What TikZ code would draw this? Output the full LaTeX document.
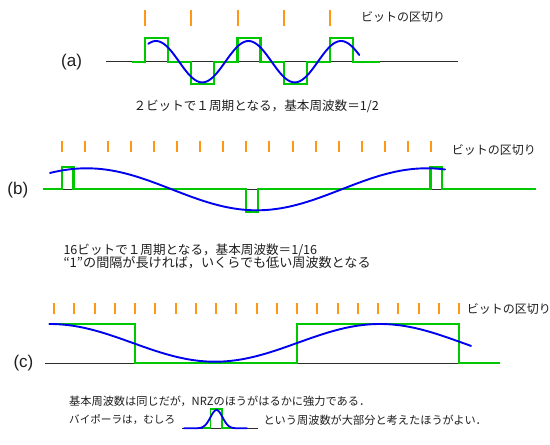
\documentclass[tikz,border=0pt]{standalone}
\usepackage{fontspec}
\newfontfamily\jpfont{Noto Sans CJK JP}
\newfontfamily\labfont{Liberation Sans}
\definecolor{tickor}{RGB}{255,150,20}
\definecolor{sigg}{RGB}{0,200,0}
\definecolor{sigb}{RGB}{0,0,240}
\definecolor{basek}{RGB}{45,45,45}
\definecolor{txt}{RGB}{30,30,30}
\begin{document}
\begin{tikzpicture}[x=1pt,y=-1pt,
  tickmark/.style={draw=tickor,line width=2pt},
  greenwave/.style={draw=sigg,line width=2.2pt,line join=miter},
  bluewave/.style={draw=sigb,line width=1.9pt,line cap=round},
  baseline/.style={draw=basek,line width=1.4pt},
  panel/.style={inner sep=0pt,anchor=west,font=\labfont\fontsize{17}{19}\selectfont,text=txt},
  jplabel/.style={inner sep=0pt,anchor=west,font=\jpfont\fontsize{12}{14}\selectfont,text=txt},
  jptext/.style={inner sep=0pt,anchor=west,font=\jpfont\fontsize{12.6}{14}\selectfont,text=txt},
  jpsmall/.style={inner sep=0pt,anchor=west,font=\jpfont\fontsize{11.2}{13}\selectfont,text=txt}]
\useasboundingbox (0,0) rectangle (550,445);
\fill[white] (0,0) rectangle (550,445);

% ---------------- (a) ----------------
\foreach \i in {0,...,4} \draw[tickmark] ({round(145+46.25*\i)},10) -- ++(0,16);
\node[jplabel] (bitsA) at (361,16.7) {ビットの区切り};
\node[panel] (labA) at (61,62) {(a)};
\draw[baseline] (106,61.7) -- (457.7,61.7);
\draw[greenwave] (132.3,61.7) -- (145,61.7) -- (145,37.7) -- (168,37.7) -- (168,61.7)
  -- (191.25,61.7) -- (191.25,84.3) -- (214.25,84.3) -- (214.25,61.7)
  -- (237.5,61.7) -- (237.5,37.7) -- (260.5,37.7) -- (260.5,61.7)
  -- (283.75,61.7) -- (283.75,84.3) -- (306.75,84.3) -- (306.75,61.7)
  -- (330,61.7) -- (330,37.7) -- (353,37.7) -- (353,61.7) -- (380,61.7);
\draw[bluewave] plot[domain=148.3:359.3,samples=140] ({\x},{61.7-20.7*cos((\x-156)/92.5*360)});
\node[jptext] (txtA) at (133.3,106) {２ビットで１周期となる，基本周波数＝1/2};

% ---------------- (b) ----------------
\foreach \i in {0,...,16} \draw[tickmark] ({round(62.3+23.02*\i)},141) -- ++(0,11.3);
\node[jplabel] (bitsB) at (451.7,150) {ビットの区切り};
\node[panel] (labB) at (7.3,190) {(b)};
\draw[baseline] (43.3,189.3) -- (536,189.3);
\draw[greenwave] (43.3,189.3) -- (62,189.3) -- (62,166.7) -- (73.5,166.7) -- (73.5,189.3)
  -- (246.3,189.3) -- (246.3,212.3) -- (257.8,212.3) -- (257.8,189.3)
  -- (430.5,189.3) -- (430.5,166.7) -- (442,166.7) -- (442,189.3) -- (536,189.3);
\draw[bluewave] plot[domain=50:445,samples=160] ({\x},{189.3-21*cos((\x-86.7)/340*360)});
\node[jptext] (txtB1) at (63.3,250) {16ビットで１周期となる，基本周波数＝1/16};
\node[jptext,font=\jpfont\fontsize{13.1}{15}\selectfont] (txtB2) at (63.3,262.9) {“1”の間隔が長ければ，いくらでも低い周波数となる};

% ---------------- (c) ----------------
\foreach \i in {0,...,20} \draw[tickmark] ({round(54+20.25*\i)},303.3) -- ++(0,11);
\node[jplabel] (bitsC) at (466.7,309) {ビットの区切り};
\node[panel] (labC) at (13.3,363) {(c)};
\draw[baseline] (45,363.3) -- (459,363.3);
\draw[greenwave] (49.3,324) -- (135,324) -- (135,363.3) -- (297,363.3) -- (297,324)
  -- (459,324) -- (459,363.3) -- (500,363.3);
\draw[bluewave] plot[domain=49.3:471,samples=160] ({\x},{342.85-18.85*cos((\x-50)/330*360)});
\node[jpsmall] (txtC1) at (69,401) {基本周波数は同じだが，NRZのほうがはるかに強力である．};
\node[jpsmall,font=\jpfont\fontsize{10.6}{13}\selectfont] (txtC2) at (69,420) {バイポーラは，むしろ};
\draw[baseline,line width=1.1pt] (181.7,428.3) -- (258.3,428.3);
\draw[greenwave,line width=1.8pt] (203,428.3) -- (210.5,428.3) -- (210.5,409) -- (222,409)
  -- (222,428.3) -- (232,428.3);
\draw[bluewave,line width=1.8pt] plot[domain=184:247,samples=80] ({\x},{428.3-18.3*exp(-((\x-216.5)/8.5)*((\x-216.5)/8.5))});
\node[jpsmall] (txtC3) at (263.3,420) {という周波数が大部分と考えたほうがよい．};
\end{tikzpicture}
\end{document}
